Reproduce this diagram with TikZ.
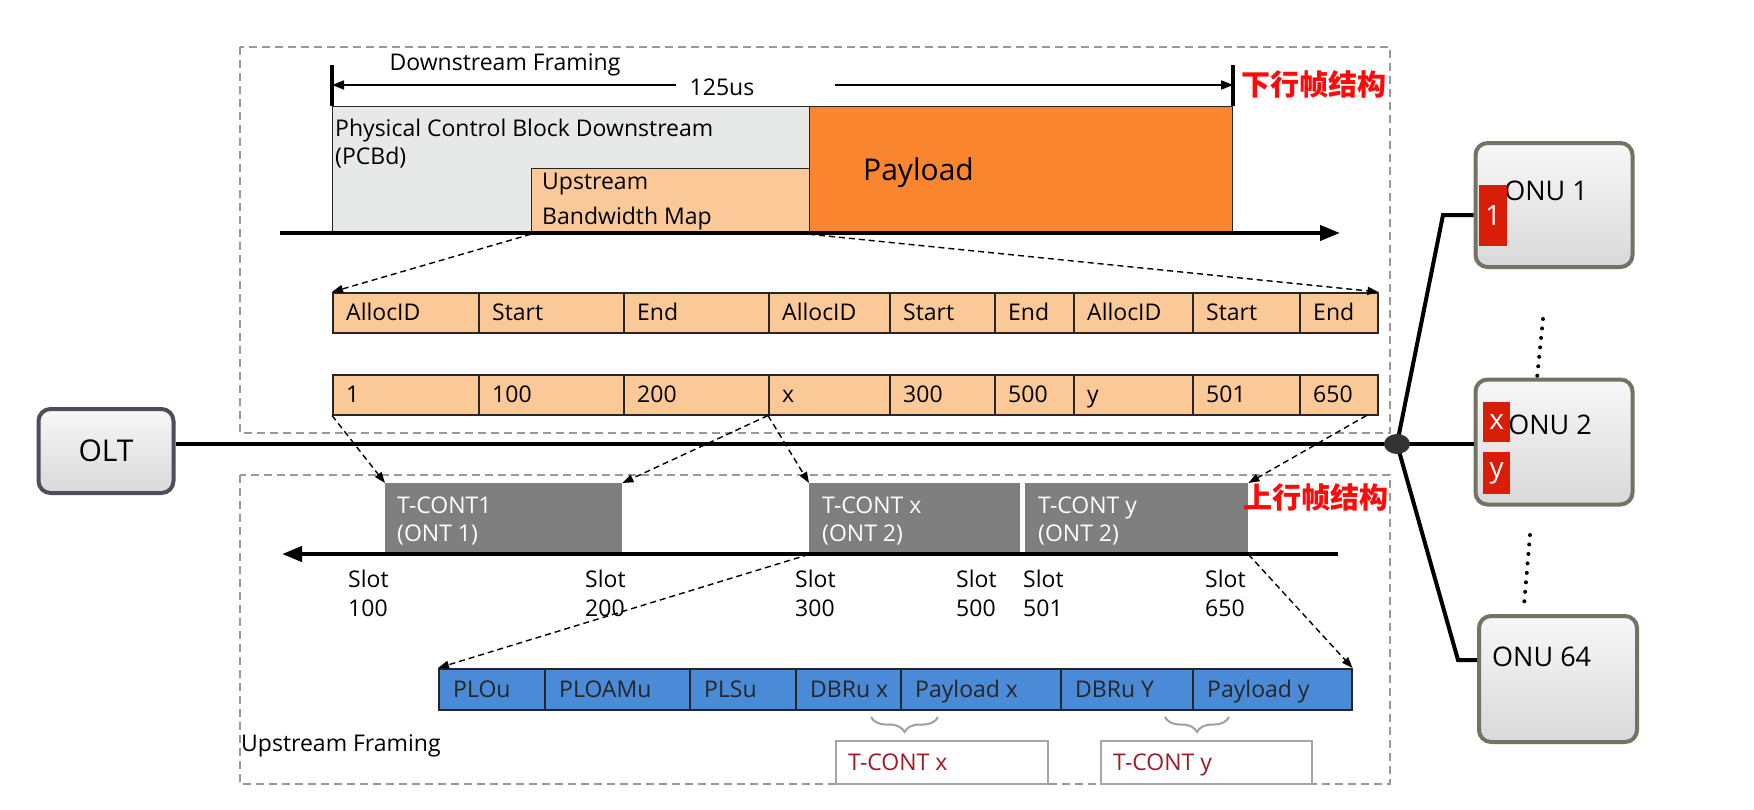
\documentclass[tikz,border=0pt]{standalone}
\usepackage{fontspec}
\setmainfont{Open Sans}
\newfontfamily\cjk{Noto Sans CJK SC}
\usetikzlibrary{positioning, arrows.meta, calc, shapes.geometric, decorations.pathreplacing}
\definecolor{pcbd}{HTML}{E7E8E8}
\definecolor{peach}{HTML}{FBC998}
\definecolor{payorange}{HTML}{F9862F}
\definecolor{tcgray}{HTML}{7F7F7F}
\definecolor{burst}{HTML}{4A8AD6}
\definecolor{tagred}{HTML}{D81E08}
\definecolor{labelred}{HTML}{FF0A0A}
\definecolor{tcred}{HTML}{A01828}
\definecolor{devrim}{HTML}{737263}
\definecolor{oltrim}{HTML}{4E4E5A}
\definecolor{hubgray}{HTML}{333333}

\begin{document}
\fontsize{23}{28}\selectfont
\begin{tikzpicture}[x=1pt, y=-1pt,
    every node/.style={font=\fontsize{23}{28}\selectfont, inner sep=0pt},
    zone/.style={draw=black!40, line width=1.5pt, dash pattern=on 8pt off 5pt},
    blk/.style={draw=black!85, line width=1.2pt, anchor=north west},
    cell/.style={draw=black!85, line width=1.5pt, fill=peach, anchor=north west, minimum height=40pt},
    bcell/.style={draw=black!85, line width=1.5pt, fill=burst, anchor=north west, minimum height=41pt},
    tcont/.style={fill=tcgray, anchor=north west, minimum height=71pt},
    txt/.style={anchor=mid west},
    twoline/.style={anchor=west, align=left},
    hint/.style={line width=1.4pt, dash pattern=on 6pt off 4pt, -{Triangle[length=11pt, width=8pt]}},
    axis/.style={line width=4pt, -{Triangle[length=20pt, width=15pt]}},
    dim/.style={line width=1.6pt, -{Triangle[length=12pt, width=9pt]}},
    link/.style={line width=4pt},
    dev/.style={draw=devrim, line width=4pt, rounded corners=12pt, top color=gray!6, bottom color=gray!30},
    tag/.style={fill=tagred, text=white, anchor=north west, font=\fontsize{28}{28}\selectfont},
    redlbl/.style={text=labelred, font=\cjk\bfseries\fontsize{29}{30}\selectfont},
    grp/.style={gray!75, line width=2pt, decorate, decoration={brace, amplitude=15pt, mirror}},
  ]
  \useasboundingbox (0,0) rectangle (1754,809);

  % framing zones
  \draw[zone] (240,47) rectangle (1390,433);
  \draw[zone] (240,475) rectangle (1390,784);

  % downstream frame
  \node[blk, fill=pcbd, minimum width=477pt, minimum height=127pt] (pcbd) at (332,106) {};
  \node[blk, fill=peach, minimum width=278pt, minimum height=65pt] (ubm) at (531,168) {};
  \node[blk, fill=payorange, minimum width=423pt, minimum height=127pt] (pay) at (809,106) {};
  \node[twoline] (pcbdl) at (335,144) {Physical Control Block Downstream\\(PCBd)};
  \node[twoline, font=\fontsize{23}{35}\selectfont] (ubml) at (542,202) {Upstream\\Bandwidth Map};
  \node[txt, font=\fontsize{30}{30}\selectfont] (payl) at (863,174) {Payload};
  \draw[axis] (280,233) -- (1340,233);
  \draw[line width=4pt] (pcbd.north west) -- ++(0,-41) coordinate (tl);
  \draw[line width=4pt] (pay.north east) -- ++(0,-41) coordinate (tr);
  \node (dsf) at (505,65) {Downstream Framing};
  \node (period) at (722,87) {125us};
  \coordinate (pl) at (676,85);
  \coordinate (pr) at (835,85);
  \draw[dim] (pl) -- (pl -| tl);
  \draw[dim] (pr) -- (pr -| tr);
  \node[redlbl] (dsl) at (1314,84) {下行帧结构};

  % bandwidth map
  \foreach \xa/\xb/\hd/\vl [count=\i] in {332/478/AllocID/1, 478/623/Start/100,
      623/768/End/200, 768/889/AllocID/x, 889/994/Start/300, 994/1073/End/500,
      1073/1192/AllocID/y, 1192/1299/Start/501, 1299/1377/End/650} {
    \node[cell, minimum width={(\xb-\xa)*1pt}] (h\i) at (\xa,292) {};
    \node[txt] at ($(h\i.west)+(14,2)$) {\hd};
    \node[cell, minimum width={(\xb-\xa)*1pt}] (v\i) at (\xa,374) {};
    \node[txt] at ($(v\i.west)+(14,2)$) {\vl};
  }

  % upstream slots
  \node[tcont, minimum width=237pt] (t1) at (385,483) {};
  \node[tcont, minimum width=211pt] (tx) at (809,483) {};
  \node[tcont, minimum width=223pt] (ty) at (1025,483) {};
  \node[twoline, text=white] at ($(t1.north west)+(12,38)$) {T-CONT1\\(ONT 1)};
  \node[twoline, text=white] at ($(tx.north west)+(13,38)$) {T-CONT x\\(ONT 2)};
  \node[twoline, text=white] at ($(ty.north west)+(13,38)$) {T-CONT y\\(ONT 2)};
  \draw[axis] (1338,554) -- (282,554);
  \foreach \sx/\sn in {348/100, 585/200, 795/300, 956/500, 1023/501, 1205/650}
    \node[twoline, font=\fontsize{23}{29}\selectfont] (s\sn) at (\sx,593) {Slot\\\sn};
  \node[redlbl] (usl) at (1316,497) {上行帧结构};

  % upstream burst
  \foreach \xa/\xb/\lb [count=\i] in {438/544/PLOu, 544/689/PLOAMu, 689/795/PLSu,
      795/900/DBRu x, 900/1060/Payload x, 1060/1192/DBRu Y, 1192/1351/Payload y} {
    \node[bcell, minimum width={(\xb-\xa)*1pt}] (b\i) at (\xa,668) {};
    \node[txt, text=black!85] at ($(b\i.west)+(15,2)$) {\lb};
  }
  \draw[grp] (871,717) -- (938,717);
  \draw[grp] (1165,717) -- (1229,717);
  \node[draw=gray!70, line width=1.5pt, anchor=north west, minimum width=212pt, minimum height=43pt] (bx) at (835,740) {};
  \node[draw=gray!70, line width=1.5pt, anchor=north west, minimum width=211pt, minimum height=43pt] (by) at (1100,740) {};
  \node[txt, text=tcred] at ($(bx.west)+(13,2)$) {T-CONT x};
  \node[txt, text=tcred] at ($(by.west)+(13,2)$) {T-CONT y};
  \node[txt] (usf) at (241,745) {Upstream Framing};

  % OLT, splitter and ONUs
  \node[dev, draw=oltrim, minimum width=135pt, minimum height=84pt,
    font=\fontsize{30}{30}\selectfont] (olt) at (106,451) {OLT};
  \node[dev, minimum width=157pt, minimum height=124pt] (onu1) at (1554,205) {};
  \node[dev, minimum width=157pt, minimum height=125pt] (onu2) at (1554,442) {};
  \node[dev, minimum width=158pt, minimum height=126pt] (onu64) at (1558,679) {};
  \node[font=\fontsize{27}{27}\selectfont] at (1546,191) {ONU 1};
  \node[font=\fontsize{27}{27}\selectfont] at (1550,425) {ONU 2};
  \node[font=\fontsize{27}{27}\selectfont, anchor=mid west] at (1492,660) {ONU 64};
  \node[tag, minimum width=28pt, minimum height=61pt] (tag1) at (1479,185) {1};
  \node[tag, minimum width=27pt, minimum height=40pt] (tagx) at (1483,402) {x};
  \node[tag, minimum width=27pt, minimum height=42pt] (tagy) at (1483,452) {y};
  \coordinate (hubc) at (1397,444);
  \draw[link] (olt.east |- hubc) -- (onu2.west |- hubc);
  \coordinate (k1) at (1443,215);
  \coordinate (k3) at (1458,660);
  \draw[link] (hubc) -- (k1) -- (k1 -| onu1.west);
  \draw[link] (hubc) -- (k3) -- (k3 -| onu64.west);
  \node[ellipse, fill=hubgray, minimum width=26pt, minimum height=20pt] (hub) at (hubc) {};
  \draw[line width=4pt, line cap=round, dash pattern=on 0pt off 9.5pt] (1543,319) -- (1537,378);
  \draw[line width=4pt, line cap=round, dash pattern=on 0pt off 9.5pt] (1530,535) -- (1524,605);

  % mapping hints
  \coordinate (v9b) at ($(v9.south east)+(-12,0)$);
  \draw[hint] (ubm.south west) -- (h1.north west);
  \draw[hint] (pay.south west) -- (h9.north east);
  \draw[hint] (v1.south west) -- (t1.north west);
  \draw[hint] (v4.south west) -- (t1.north east);
  \draw[hint] (v4.south west) -- (tx.north west);
  \draw[hint] (v9b) -- (ty.north east);
  \draw[hint] (tx.south west) -- (b1.north west);
  \draw[hint] (ty.south east) -- (b7.north east);
\end{tikzpicture}
\end{document}
